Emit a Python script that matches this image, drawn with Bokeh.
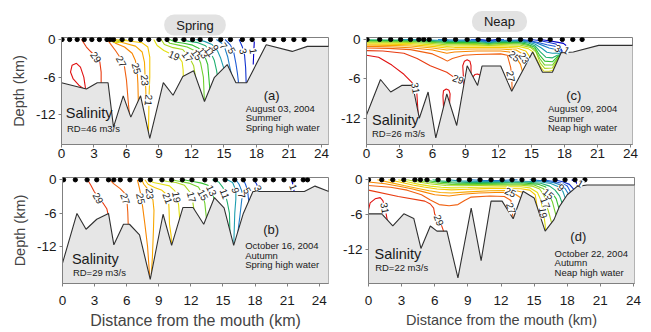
from bokeh.plotting import figure
from bokeh.models import Range1d, FixedTicker, Label, LabelSet, ColumnDataSource, Title
from bokeh.layouts import row, column
from bokeh.core.properties import value
from bokeh.embed import file_html
from bokeh.resources import INLINE

FONT = "Liberation Sans"

# ---------------- data ----------------
x_ticks = [0, 3, 6, 9, 12, 15, 18, 21, 24]
depth_ticks = [-12, -6, 0]

level_colors = {
    1: "#0000c8", 3: "#1234d0", 5: "#1f5cd6", 7: "#1f7fc8", 9: "#1f9fb0",
    11: "#20b070", 13: "#33c033", 15: "#72d030", 17: "#aad820", 19: "#e2e010",
    21: "#f5c800", 23: "#f8a800", 25: "#f88600", 27: "#f06010", 29: "#e83a10",
    31: "#e01010",
}

# Panel (a) August 03, 2004
a_bathy_x = [0, 2.3, 3.3, 4.3, 4.8, 5.7, 6.4, 7.3, 8.15, 9.4, 10.3, 11.2, 12.2, 13.2, 14.1, 15.3, 16.1, 17.1, 18.9, 21.3, 22.7, 25.5]
a_bathy_y = [-6.9, -7.9, -6.9, -6.9, -14.0, -9.0, -12.4, -9.0, -15.8, -6.9, -8.9, -5.9, -5.0, -9.9, -6.1, -4.0, -6.9, -6.9, -0.85, -1.9, -1.1, -1.1]
a_stations = [0.05, 0.75, 1.45, 2.1, 2.8, 3.5, 4.2, 4.5, 4.8, 5.6, 6.4, 7.3, 8.05, 9.0, 9.75, 10.5, 11.3, 12.1, 12.8, 13.75, 14.7, 15.6, 16.7, 17.6, 18.7, 19.6, 20.5, 21.45, 22.4]
a_contours = [
    (31, [2.25, 2.06, 1.75, 1.38, 0.98, 0.83, 1.08, 1.6, 2.0, 2.3], [-8.2, -6.0, -4.4, -3.8, -4.1, -5.2, -6.3, -7.3, -7.8, -8.2]),
    (29, [1.85, 2.3, 2.74, 3.3, 3.54, 3.66, 3.66], [0, -1.2, -2.0, -2.9, -3.6, -5.2, -7.2]),
    (27, [4.22, 4.52, 4.98, 5.38, 5.82, 6.0, 6.15, 6.3], [0, -0.7, -1.75, -2.8, -4.4, -6.5, -9.7, -12.6]),
    (25, [4.37, 4.98, 5.82, 6.52, 6.83, 6.98, 7.05, 7.1], [0, -0.58, -1.2, -2.2, -3.4, -4.9, -7.0, -10.2]),
    (23, [4.58, 5.6, 6.83, 7.45, 7.66, 7.72, 7.78, 7.8], [0, -0.48, -1.06, -2.0, -3.6, -6.0, -7.9, -9.3]),
    (21, [4.83, 6.06, 7.45, 7.97, 8.15, 8.15, 8.09, 8.03], [0, -0.2, -0.53, -1.2, -2.8, -6.0, -8.7, -14.9]),
    (19, [8.52, 8.83, 9.45, 10.06, 10.83, 11.14, 11.23, 11.25], [0, -0.96, -1.75, -2.28, -2.8, -3.6, -4.9, -6.2]),
    (19, [4.5, 4.7, 5.2, 5.8, 6.0], [0, -0.35, -0.5, -0.2, 0]),
    (17, [4.6, 4.8, 5.2, 5.5], [0, -0.2, -0.25, 0]),
    (17, [9.2, 9.5, 10.3, 11.2, 11.6, 11.9, 12.2, 12.4], [0, -0.8, -1.3, -1.6, -2.4, -3.2, -4.2, -6.3]),
    (15, [9.6, 10.0, 10.8, 11.6, 12.3, 12.55, 12.85, 13.1, 13.2], [0, -0.6, -0.9, -1.2, -1.8, -2.5, -3.8, -6.0, -10.2]),
    (13, [10.0, 10.5, 11.3, 12.1, 12.8, 13.15, 13.5, 13.7], [0, -0.4, -0.6, -0.9, -1.5, -2.3, -4.0, -8.0]),
    (11, [11.0, 11.8, 12.6, 13.3, 13.75, 14.1, 14.3, 14.4], [0, -0.3, -0.5, -1.0, -2.0, -3.3, -4.8, -5.8]),
    (9, [12.4, 13.2, 13.9, 14.4, 14.7, 15.0], [0, -0.3, -0.8, -1.8, -3.0, -4.7]),
    (7, [14.3, 14.8, 15.1, 15.35, 15.5, 15.7], [0, -0.6, -1.5, -2.8, -4.1, -5.7]),
    (5, [15.1, 15.6, 15.9, 16.1, 16.25, 16.35], [0, -0.9, -2.0, -3.8, -5.5, -7.0]),
    (3, [16.4, 16.7, 16.9, 17.0, 17.05], [0, -1.2, -2.5, -4.5, -7.0]),
    (1, [17.8, 17.75, 17.7], [-0.3, -2.0, -4.0]),
]
a_labels = [
    ("29", 3.2, -2.8, -55), ("27", 5.55, -3.5, -62), ("25", 6.95, -4.6, -75),
    ("23", 7.72, -6.5, -85), ("21", 8.08, -9.7, -95), ("19", 10.4, -2.5, -25),
    ("17", 11.66, -2.7, -55), ("15", 12.5, -2.4, -55), ("13", 13.1, -2.1, -55),
    ("11", 13.7, -1.9, -55), ("9", 14.2, -1.3, -55), ("7", 15.0, -1.0, -55),
    ("5", 15.75, -1.75, -60), ("3", 16.8, -1.85, -75), ("1", 17.75, -1.85, -80),
]

# Panel (b) October 16, 2004
b_bathy_x = [0, 1.35, 2.2, 3.2, 4.3, 4.8, 5.7, 6.26, 7.2, 8.2, 9.4, 10.2, 11.25, 12.2, 13.2, 14.2, 15.1, 16.0, 16.9, 17.8, 22.6, 23.6, 24.9, 25.5]
b_bathy_y = [-15.0, -6.06, -8.9, -7.1, -6.06, -11.7, -8.0, -8.0, -9.9, -17.9, -6.2, -11.8, -5.0, -5.0, -8.0, -3.2, -5.05, -11.8, -6.06, -2.1, -2.1, -1.14, -2.1, -2.1]
b_stations = [0.1, 1.2, 2.3, 3.2, 4.3, 4.8, 5.4, 6.3, 7.3, 8.2, 9.3, 10.2, 11.2, 12.1, 13.3, 14.3, 15.2, 16.1, 16.9, 18.0, 18.9, 19.7, 20.7, 21.6, 22.5, 22.9]
b_contours = [
    (29, [2.34, 2.65, 2.96, 3.4, 3.83, 4.14, 4.24, 4.3], [0, -1.0, -2.1, -3.3, -4.3, -5.2, -6.06, -6.6]),
    (27, [4.45, 4.77, 5.39, 5.76, 5.95, 6.05, 6.1, 6.14, 6.16], [0, -0.7, -1.6, -2.3, -3.4, -4.5, -5.8, -8.0, -8.5]),
    (25, [7.0, 7.15, 7.3, 7.38, 7.5, 7.7, 7.95, 8.15, 8.2], [0, -1.2, -2.5, -3.4, -5.0, -8.0, -12.0, -17.5, -18.5]),
    (23, [7.4, 7.6, 7.9, 8.2, 8.45, 8.55, 8.5, 8.4, 8.3], [0, -0.8, -1.5, -2.5, -3.6, -5.5, -9.0, -14.0, -17.0]),
    (21, [7.7, 8.0, 8.6, 9.3, 9.7, 9.9, 9.95, 10.0, 10.15, 10.2], [0, -0.8, -1.4, -1.9, -2.6, -3.4, -5.0, -8.0, -10.0, -12.0]),
    (19, [8.0, 8.5, 9.3, 10.0, 10.5, 10.7, 10.85, 10.95, 11.0], [0, -0.5, -0.8, -1.1, -2.0, -3.1, -4.5, -7.0, -7.5]),
    (17, [9.0, 9.8, 10.6, 11.4, 11.9, 12.1, 12.2, 12.3], [0, -0.3, -0.5, -1.0, -2.2, -3.1, -4.3, -5.5]),
    (15, [10.2, 11.0, 11.8, 12.7, 13.1, 13.3, 13.45, 13.5], [0, -0.3, -0.6, -1.3, -2.6, -4.2, -6.9, -7.3]),
    (13, [11.3, 12.2, 13.0, 13.6, 13.95, 14.1, 14.2], [0, -0.3, -0.6, -1.0, -1.9, -3.0, -3.6]),
    (11, [14.0, 14.6, 15.0, 15.2, 15.4, 15.6, 15.65], [0, -0.4, -1.4, -2.5, -4.0, -6.0, -9.6]),
    (9, [15.4, 15.9, 16.2, 16.2, 16.1, 16.0], [0, -0.5, -1.9, -3.5, -6.0, -12.0]),
    (7, [16.2, 16.5, 16.75, 16.8, 16.7, 16.55, 16.45, 16.4], [0, -0.8, -2.0, -2.8, -4.5, -7.0, -8.5, -9.5]),
    (5, [16.9, 17.1, 17.3, 17.4, 17.45], [0, -0.8, -1.9, -3.8, -4.3]),
    (3, [17.9, 18.15, 18.3, 18.35], [0, -0.8, -1.6, -2.3]),
    (1, [21.4, 21.5, 21.6, 21.65], [0, -0.6, -1.3, -2.3]),
]
b_labels = [
    ("29", 3.36, -3.3, -60), ("27", 5.9, -3.4, -70), ("25", 7.35, -3.4, -78),
    ("23", 8.2, -2.5, -85), ("21", 9.85, -3.3, -70), ("19", 10.7, -3.1, -80),
    ("17", 12.1, -3.1, -75), ("15", 13.15, -2.7, -60), ("13", 13.95, -1.9, -65),
    ("11", 15.2, -2.5, -70), ("9", 16.2, -1.9, -80), ("7", 16.8, -2.8, -80),
    ("5", 17.3, -1.9, -60), ("3", 18.3, -1.5, -60), ("1", 21.6, -1.3, -70),
]

# Panel (c) August 09, 2004
c_bathy_x = [0, 1.27, 2.2, 3.2, 4.2, 4.8, 5.6, 6.3, 7.3, 8.2, 9.15, 10.1, 10.5, 12.2, 13.2, 15.1, 16.0, 16.9, 17.7, 18.8, 21.1, 25.5]
c_bathy_y = [-11.5, -6.1, -8.0, -7.0, -7.0, -12.0, -8.0, -15.0, -8.3, -13.1, -4.0, -7.0, -4.05, -4.05, -7.9, -1.9, -5.0, -5.0, -2.0, -1.9, -0.9, -0.9]
c_stations = [0.05, 1.2, 2.2, 3.1, 4.0, 4.75, 5.2, 5.7, 7.1, 8.1, 9.15, 10.15, 11.1, 12.0, 13.0, 14.0, 14.9, 15.8, 16.7, 17.8, 18.75, 19.6]
c_contours = [
    (31, [0, 1.1, 2.3, 3.4, 4.1, 4.55, 4.7], [-2.4, -2.7, -3.9, -5.3, -6.5, -7.5, -11.5]),
    (31, [7.0, 6.95, 7.0, 7.25, 7.5, 7.6, 7.55], [-10.3, -8.6, -7.8, -7.55, -7.75, -8.3, -9.8]),
    (31, [8.85, 8.75, 8.9, 9.15, 9.4, 9.5, 9.5], [-6.9, -4.0, -3.3, -3.1, -3.3, -4.0, -5.3]),
    (31, [9.68, 9.85, 10.1, 10.3, 10.38], [-5.7, -5.35, -5.25, -5.4, -5.7]),
    (29, [0, 1.5, 3.4, 4.6, 5.8, 7.3, 7.9, 8.4, 8.95], [-1.7, -1.75, -2.1, -2.9, -4.0, -5.0, -5.7, -6.0, -6.2]),
    (27, [0, 2, 4, 6, 6.9, 7.35, 7.8, 8.85, 10, 12.2, 12.8, 13.1, 13.2, 13.24], [-1.3, -1.35, -1.55, -2.2, -2.9, -3.3, -2.9, -2.4, -2.3, -2.2, -2.4, -4.2, -5.5, -8.0]),
    (25, [0, 2, 4, 6, 7.3, 8, 10, 12.2, 13.0, 13.5, 14.0, 14.2], [-1.05, -1.1, -1.25, -1.6, -2.1, -1.9, -1.75, -1.75, -1.9, -2.5, -3.8, -5.0]),
    (23, [0, 2, 4, 6, 7.3, 8, 10, 12.2, 13.6, 14.2, 14.5, 14.7], [-0.85, -0.9, -1.0, -1.3, -1.6, -1.5, -1.45, -1.45, -1.6, -2.2, -3.0, -3.6]),
    (21, [0, 2, 4, 6, 7.3, 8, 10, 12.2, 13.7, 14.5, 14.9], [-0.68, -0.72, -0.8, -1.05, -1.3, -1.25, -1.2, -1.2, -1.3, -1.8, -2.8]),
    (19, [0, 2, 4, 6, 7.3, 8, 10, 12.2, 13.8, 14.7, 15.1, 15.45, 15.8, 16.1, 16.6, 16.95, 17.15, 17.4, 17.55, 17.75], [-0.52, -0.55, -0.62, -0.82, -1.05, -1.0, -0.98, -0.98, -1.05, -1.4, -1.85, -2.9, -4.1, -4.8, -4.85, -4.7, -3.8, -2.9, -2.5, -2.3]),
    (17, [0, 2, 4, 6, 7.3, 8, 10, 11.1, 12.2, 13.9, 14.9, 15.4, 15.8, 16.2, 16.9, 17.2, 17.45, 17.75], [-0.38, -0.4, -0.46, -0.62, -0.82, -0.8, -0.78, -0.9, -0.78, -0.85, -1.2, -1.9, -3.6, -4.4, -4.35, -3.5, -2.6, -2.3]),
    (15, [0, 2, 4, 6, 7.3, 8, 10, 11.1, 12.2, 13.9, 14.8, 15.3, 15.75, 16.2, 16.9, 17.3, 17.5, 17.75], [-0.26, -0.28, -0.32, -0.45, -0.62, -0.6, -0.6, -0.75, -0.6, -0.65, -0.95, -1.5, -2.9, -3.9, -3.9, -3.0, -2.4, -2.3]),
    (13, [0, 2, 4, 6, 7.3, 8, 10, 11.1, 12.2, 13.9, 14.7, 15.3, 15.7, 16.2, 16.9, 17.35, 17.75], [-0.15, -0.17, -0.2, -0.3, -0.45, -0.45, -0.45, -0.62, -0.45, -0.48, -0.75, -1.2, -2.3, -3.3, -3.4, -2.6, -2.3]),
    (11, [0, 2, 4, 6, 7.3, 8, 10, 11.1, 12.2, 13.9, 14.7, 15.3, 15.8, 16.3, 16.9, 17.35, 17.75], [-0.05, -0.07, -0.09, -0.17, -0.3, -0.3, -0.32, -0.5, -0.33, -0.33, -0.55, -0.95, -1.9, -2.7, -2.8, -2.4, -2.3]),
    (9, [3.0, 5, 6.5, 7.5, 8.5, 10, 11.1, 12.2, 13.9, 14.7, 15.3, 15.9, 16.4, 16.9, 17.35, 17.75], [0, -0.05, -0.12, -0.18, -0.2, -0.22, -0.4, -0.22, -0.2, -0.38, -0.7, -1.3, -1.95, -2.1, -2.05, -2.3]),
    (7, [6.5, 8, 10, 11.1, 12.2, 13.9, 14.7, 15.4, 16.0, 16.6, 17.1, 17.5, 17.75], [0, -0.08, -0.1, -0.3, -0.12, -0.1, -0.25, -0.5, -0.9, -1.3, -1.5, -1.7, -2.3]),
    (5, [9.5, 10.4, 11.1, 11.8, 12.5], [0, -0.05, -0.22, -0.05, 0]),
    (5, [14.2, 15.0, 15.7, 16.4, 17.0, 17.5, 17.85], [0, -0.25, -0.5, -0.8, -1.0, -1.2, -2.1]),
    (3, [10.3, 11.1, 11.8], [0, -0.15, 0]),
    (3, [15.0, 15.8, 16.6, 17.2, 17.5, 17.7, 17.9], [0, -0.2, -0.45, -0.7, -1.0, -1.5, -2.1]),
    (1, [15.8, 16.6, 17.3, 17.9, 18.2, 18.25], [0, -0.2, -0.4, -0.6, -1.0, -2.0]),
]
c_labels = [
    ("31", 4.5, -7.4, -80), ("29", 8.35, -6.0, -20), ("27", 13.15, -5.6, -80),
    ("25", 13.45, -2.5, -40), ("23", 14.35, -2.8, -55), ("3", 17.4, -1.3, -30),
    ("1", 18.2, -1.6, -30),
]

# Panel (d) October 22, 2004
d_bathy_x = [0, 1.2, 2.2, 3.2, 4.1, 4.75, 5.6, 6.2, 7.1, 8.1, 9.3, 10.2, 11.1, 12.1, 13.1, 14.0, 15.0, 16.0, 16.8, 17.3, 18.0, 18.9, 19.8, 25.5]
d_bathy_y = [-5.9, -5.9, -8.0, -5.9, -6.7, -11.9, -8.0, -8.9, -8.9, -17.0, -4.9, -14.0, -3.7, -3.7, -6.75, -2.0, -3.15, -8.9, -6.9, -4.6, -2.6, -1.15, -0.9, -0.9]
d_stations = [0, 1.2, 2.2, 3.2, 4.2, 4.7, 5.3, 6.3, 7.25, 8.2, 9.15, 10.1, 11.1, 12.1, 13.0, 13.9, 14.95, 15.9, 16.9, 17.8, 18.7, 19.6]
d_contours = [
    (31, [0, 0.15, 0.6, 1.06, 1.3, 1.5, 1.7], [-5.2, -4.0, -3.3, -3.1, -3.6, -4.9, -7.0]),
    (29, [0, 2.7, 5.1, 5.6, 5.9, 6.0, 6.45, 6.85], [-1.8, -2.9, -3.7, -4.2, -4.9, -6.0, -7.0, -9.2]),
    (27, [0, 2.0, 3.5, 4.8, 5.6, 6.4, 7.3, 8.1, 8.7, 9.3, 11, 12.3, 12.9, 12.95, 13.05, 13.12], [-1.0, -1.3, -1.8, -2.6, -3.5, -4.3, -4.5, -4.3, -3.6, -3.0, -2.8, -2.9, -3.6, -4.9, -6.0, -7.0]),
    (25, [0, 1.5, 3.0, 4.0, 5.0, 6.0, 7.3, 8.5, 10, 11.5, 12.4, 13.3, 13.85], [-0.4, -0.7, -1.2, -1.6, -2.1, -2.6, -2.8, -2.5, -2.3, -2.2, -2.2, -2.5, -3.2]),
    (23, [0.8, 2.0, 3.2, 4.5, 5.5, 6.5, 7.5, 9, 11, 12.5, 13.5, 14.05], [0, -0.5, -1.0, -1.5, -1.9, -2.2, -2.3, -2.1, -1.9, -1.85, -1.95, -2.2]),
    (21, [1.8, 2.8, 4.0, 5.0, 6.2, 7.5, 9, 11, 12.5, 13.8, 14.6, 15.1, 15.3], [0, -0.4, -0.9, -1.25, -1.6, -1.75, -1.65, -1.5, -1.5, -1.55, -1.8, -2.6, -5.0]),
    (19, [2.7, 3.6, 4.6, 5.6, 6.6, 7.5, 9, 11, 12.5, 13.8, 14.6, 15.3, 15.6, 15.85, 16.0, 16.05], [0, -0.4, -0.8, -1.1, -1.3, -1.4, -1.35, -1.25, -1.2, -1.2, -1.4, -2.2, -3.5, -5.7, -7.8, -9.0]),
    (17, [3.5, 4.4, 5.5, 7, 8.5, 10, 12, 13.8, 14.8, 15.5, 15.9, 16.05, 16.35, 16.6], [0, -0.35, -0.7, -1.0, -1.05, -1.0, -0.95, -0.95, -1.1, -1.6, -2.7, -4.0, -5.8, -7.6]),
    (15, [4.2, 5.1, 6.3, 7.5, 9, 11, 13.8, 15.0, 15.8, 16.3, 16.65, 17.0], [0, -0.3, -0.6, -0.8, -0.85, -0.8, -0.75, -0.9, -1.5, -2.4, -3.8, -6.3]),
    (13, [5.0, 5.8, 6.8, 8, 10, 12, 14, 15.3, 16.0, 16.6, 17.0, 17.25], [0, -0.25, -0.45, -0.6, -0.62, -0.58, -0.55, -0.75, -1.2, -2.2, -3.3, -5.0]),
    (11, [5.8, 6.5, 7.5, 9, 11, 13, 14.5, 15.6, 16.4, 16.9, 17.3, 17.55], [0, -0.2, -0.35, -0.45, -0.45, -0.42, -0.42, -0.6, -1.1, -1.8, -2.8, -4.1]),
    (9, [7.2, 8.2, 10, 12, 14, 15.5, 16.5, 17.2, 17.6, 17.85], [0, -0.2, -0.28, -0.28, -0.25, -0.35, -0.65, -1.2, -2.0, -3.3]),
    (7, [9.3, 10.5, 12, 13.5], [0, -0.12, -0.12, 0]),
    (7, [14.6, 15.8, 16.8, 17.4, 17.8, 18.15], [0, -0.2, -0.5, -0.9, -1.5, -2.6]),
    (5, [15.8, 16.8, 17.5, 18.0, 18.35], [0, -0.3, -0.6, -1.1, -2.3]),
    (3, [16.8, 17.6, 18.2, 18.65], [0, -0.35, -0.8, -1.8]),
    (1, [18.4, 18.8, 19.05], [0, -0.4, -1.3]),
]
d_labels = [
    ("31", 1.5, -4.9, -80), ("29", 6.4, -7.0, -70), ("27", 12.95, -4.9, -70),
    ("25", 12.85, -2.1, -25), ("19", 15.85, -5.7, -80), ("17", 16.05, -4.0, -70),
    ("15", 16.3, -2.4, -40), ("9", 17.45, -1.3, -40), ("1", 19.2, -0.6, -30),
]


def make_panel(width, height, left, right, top, bottom, x_end, y_start, y_end,
               bx, by, stations, contours, labels, texts, ylabel, xlabel,
               xlabel_size, tick_standoff, label_standoff, season=None):
    p = figure(width=width, height=height, x_range=Range1d(0, x_end),
               y_range=Range1d(y_start, y_end), output_backend="svg",
               toolbar_location=None, min_border_left=left, min_border_right=right,
               min_border_top=top, min_border_bottom=bottom)
    p.grid.visible = False
    p.outline_line_color = "#808080"
    p.background_fill_color = "white"
    p.border_fill_color = "white"
    for lev, xs, ys in contours:
        p.line(xs, ys, line_color=level_colors[lev], line_width=1.1)
    px = [-2] + bx + [bx[-1], -2]
    py = [by[0]] + by + [-60, -60]
    p.patch(px, py, fill_color="#e6e6e6", line_color=None)
    p.line(bx, by, line_color="#303030", line_width=1.1)
    p.scatter(stations, [0] * len(stations), size=4.3, color="black")

    src = ColumnDataSource(dict(x=[l[1] for l in labels], y=[l[2] for l in labels],
                                text=[l[0] for l in labels], angle=[l[3] for l in labels]))
    p.add_layout(LabelSet(x="x", y="y", text="text", angle="angle", angle_units="deg",
                          source=src, text_font=value(FONT), text_font_size="10px",
                          text_align="center", text_baseline="middle",
                          text_color="#222222", background_fill_color="white"))
    for t, x, y, size, align in texts:
        p.add_layout(Label(x=x, y=y, text=t, text_font=FONT, text_font_size=size,
                           text_align=align, text_baseline="middle", text_color="#1a1a1a"))
    if season is not None:
        t, off, stand = season
        ttl = Title(text=t, align="center", text_font=FONT, text_font_size="13px",
                    text_font_style="normal", text_color="#1a1a1a",
                    background_fill_color="#e2e2e2", border_radius=10,
                    padding=(12, 3), offset=off, standoff=stand)
        p.add_layout(ttl, "above")

    p.xaxis.ticker = FixedTicker(ticks=x_ticks)
    p.yaxis.ticker = FixedTicker(ticks=depth_ticks)
    p.yaxis.major_label_overrides = {-12: "-12", -6: "-6", 0: "0"}
    p.axis.axis_line_color = "#808080"
    p.axis.major_tick_line_color = "#808080"
    p.axis.major_tick_in = 0
    p.axis.major_tick_out = 3
    p.axis.minor_tick_line_color = None
    p.axis.major_label_text_font = FONT
    p.axis.major_label_text_font_size = "13.5px"
    p.axis.major_label_text_color = "#1a1a1a"
    p.xaxis.major_label_standoff = tick_standoff
    p.yaxis.major_label_standoff = 3
    if ylabel:
        p.yaxis.axis_label = ylabel
        p.yaxis.axis_label_text_font = FONT
        p.yaxis.axis_label_text_font_style = "normal"
        p.yaxis.axis_label_text_font_size = "14.5px"
        p.yaxis.axis_label_standoff = 6
    if xlabel:
        p.xaxis.axis_label = xlabel
        p.xaxis.axis_label_text_font = FONT
        p.xaxis.axis_label_text_font_style = "normal"
        p.xaxis.axis_label_text_font_size = xlabel_size
        p.xaxis.axis_label_standoff = label_standoff
    return p


a_texts = [("Salinity", 0.4, -11.8, "14.5px", "left"), ("RD=46 m3/s", 0.5, -14.2, "9.5px", "left"),
           ("(a)", 19.4, -9.0, "13px", "center"), ("August 03, 2004", 17.0, -11.0, "9.5px", "left"),
           ("Summer", 17.0, -12.5, "9.5px", "left"), ("Spring high water", 17.0, -14.0, "9.5px", "left")]
c_texts = [("Salinity", 0.5, -12.3, "14.5px", "left"), ("RD=26 m3/s", 0.5, -14.3, "9.5px", "left"),
           ("(c)", 18.85, -8.5, "13px", "center"), ("August 09, 2004", 16.5, -10.5, "9.5px", "left"),
           ("Summer", 16.5, -12.0, "9.5px", "left"), ("Neap high water", 16.5, -13.4, "9.5px", "left")]
b_texts = [("Salinity", 0.88, -14.2, "14.5px", "left"), ("RD=29 m3/s", 0.97, -16.6, "9.5px", "left"),
           ("(b)", 19.5, -9.0, "13px", "center"), ("October 16, 2004", 17.07, -11.8, "9.5px", "left"),
           ("Autumn", 17.07, -13.6, "9.5px", "left"), ("Spring high water", 17.07, -15.3, "9.5px", "left")]
d_texts = [("Salinity", 0.55, -12.9, "14.5px", "left"), ("RD=22 m3/s", 0.6, -15.2, "9.5px", "left"),
           ("(d)", 19.0, -9.9, "13px", "center"), ("October 22, 2004", 16.85, -12.7, "9.5px", "left"),
           ("Autumn", 16.85, -14.4, "9.5px", "left"), ("Neap high water", 16.85, -16.0, "9.5px", "left")]

pa = make_panel(330, 165, 61, 2, 37, 21, 24.65, -16.77, 0.32, a_bathy_x, a_bathy_y, a_stations,
                a_contours, a_labels, a_texts, "Depth (km)", None, None, 1, 0,
                ("Spring", -5, 4))
pc = make_panel(321, 165, 36, 19, 37, 21, 24.18, -16.0, 0.3, c_bathy_x, c_bathy_y, c_stations,
                c_contours, c_labels, c_texts, None, None, None, 1, 0,
                ("Neap", -4, 11))
pb = make_panel(330, 167, 62, 2, 12, 48, 24.86, -18.66, 0.41, b_bathy_x, b_bathy_y, b_stations,
                b_contours, b_labels, b_texts, "Depth (km)", "Distance from the mouth (km)", "16px", 9, 4)
pd = make_panel(321, 167, 38, 17, 11, 49, 24.09, -17.96, 0.39, d_bathy_x, d_bathy_y, d_stations,
                d_contours, d_labels, d_texts, None, "Distance from the mouth (km)", "14.5px", 9, 4)

layout = column(row(pa, pc, spacing=0), row(pb, pd, spacing=0), spacing=0)
open("out.html", "w").write(file_html(layout, INLINE))
